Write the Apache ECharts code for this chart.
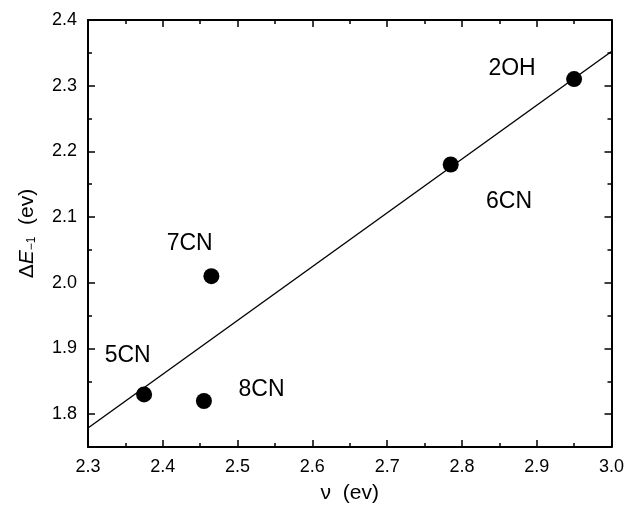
<!DOCTYPE html>
<html>
<head>
<meta charset="utf-8">
<script src="https://cdn.jsdelivr.net/npm/echarts@6/dist/echarts.min.js"></script>
<style>
  html, body { margin: 0; padding: 0; background: #fff; }
  #chart { width: 627px; height: 514px; }
</style>
</head>
<body>
<div id="chart"></div>
<script>
// measured points
const names = ['5CN', '8CN', '7CN', '6CN', '2OH'];
const xVals = [2.375, 2.455, 2.465, 2.785, 2.95];
const yVals = [1.83, 1.82, 2.01, 2.18, 2.31];

// label positions (data coords)
const labelX = [2.353, 2.532, 2.436, 2.863, 2.867];
const labelY = [1.889, 1.838, 2.059, 2.123, 2.326];

// fitted line end points
const fitX = [2.3, 3.0];
const fitY = [1.779, 2.352];

// y tick values
const yMajor = [1.8, 1.9, 2.0, 2.1, 2.2, 2.3, 2.4];
const yMinor = [1.75, 1.85, 1.95, 2.05, 2.15, 2.25, 2.35];

const font = '"Liberation Sans", Arial, sans-serif';
const black = '#000';

const chart = echarts.init(document.getElementById('chart'));

function xAx(pos, withLabel) {
  return {
    type: 'value', position: pos, min: 2.3, max: 3.0, interval: 0.1,
    name: withLabel ? 'ν  (ev)' : '',
    nameLocation: 'middle', nameGap: 36,
    nameTextStyle: { fontFamily: font, fontSize: 21, color: black },
    axisLine: { show: true, lineStyle: { color: black, width: 2 } },
    axisTick: { show: true, inside: true, length: 7, lineStyle: { color: black, width: 1.5 } },
    minorTick: { show: true, splitNumber: 2, length: 4, lineStyle: { color: black, width: 1.5 } },
    axisLabel: {
      show: withLabel, margin: 11, fontFamily: font, fontSize: 18, color: black,
      formatter: v => v.toFixed(1)
    },
    splitLine: { show: false }
  };
}

function yAx(pos, vals, len, line, withLabel) {
  return {
    type: 'value', position: pos, min: 1.75, max: 2.4,
    name: withLabel ? '{d|Δ}{e|E}{s|−1}{d|  (ev)}' : '',
    nameLocation: 'middle', nameGap: 50, nameRotate: 90,
    nameTextStyle: {
      rich: {
        d: { fontFamily: font, fontSize: 21, color: black },
        e: { fontFamily: font, fontSize: 21, fontStyle: 'italic', color: black },
        s: { fontFamily: font, fontSize: 12, color: black, verticalAlign: 'bottom', padding: [10, 0, 0, 0] }
      }
    },
    axisLine: { show: line, lineStyle: { color: black, width: 2 } },
    axisTick: { show: true, inside: true, length: len, customValues: vals, lineStyle: { color: black, width: 1.5 } },
    axisLabel: {
      show: withLabel, margin: 11, fontFamily: font, fontSize: 18, color: black,
      customValues: vals, formatter: v => v.toFixed(1)
    },
    splitLine: { show: false }
  };
}

const option = {
  backgroundColor: '#fff',
  animation: false,
  grid: { left: 88, right: 15, top: 20, bottom: 67 },
  xAxis: [xAx('bottom', true), xAx('top', false)],
  yAxis: [
    yAx('left', yMajor, 7, true, true),
    yAx('left', yMinor, 4, false, false),
    yAx('right', yMajor, 7, true, false),
    yAx('right', yMinor, 4, false, false)
  ],
  series: [
    {
      type: 'line',
      data: fitX.map((x, i) => [x, fitY[i]]),
      symbol: 'none',
      lineStyle: { color: black, width: 1.4 },
      silent: true
    },
    {
      type: 'scatter',
      data: xVals.map((x, i) => [x, yVals[i]]),
      symbol: 'circle',
      symbolSize: 16,
      itemStyle: { color: black, opacity: 1 }
    },
    {
      type: 'scatter',
      data: labelX.map((x, i) => ({ value: [x, labelY[i]], name: names[i] })),
      symbolSize: 0,
      itemStyle: { opacity: 1 },
      label: {
        show: true, position: 'inside', formatter: p => p.name,
        fontFamily: font, fontSize: 23, color: black, opacity: 1
      }
    }
  ]
};

chart.setOption(option);
</script>
</body>
</html>
